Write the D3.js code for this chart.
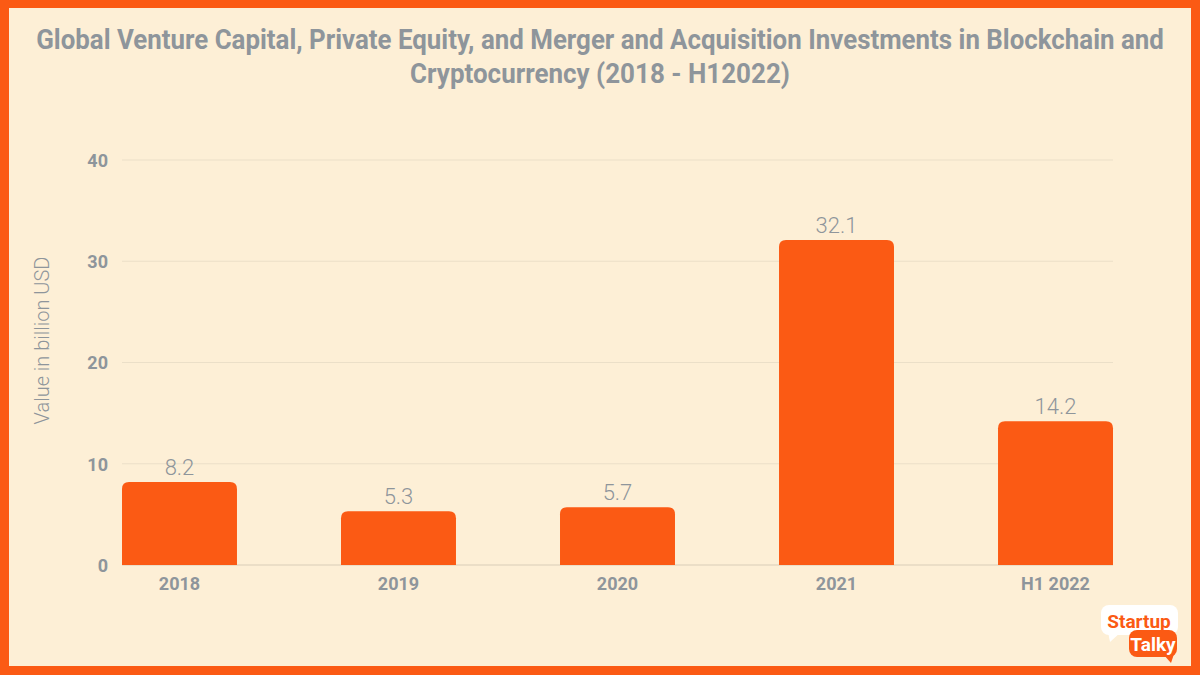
<!DOCTYPE html>
<html><head><meta charset="utf-8">
<script src="https://cdn.jsdelivr.net/npm/d3@7"></script>
<style>
html,body{margin:0;padding:0;background:#fff;}
svg{display:block;}
</style></head>
<body>
<svg id="c" width="1200" height="675"></svg>
<script>
const categories = ["2018","2019","2020","2021","H1 2022"];
const values = [8.2, 5.3, 5.7, 32.1, 14.2];
const yTicks = [0, 10, 20, 30, 40];
const titleLines = ["Global Venture Capital, Private Equity, and Merger and Acquisition Investments in Blockchain and","Cryptocurrency (2018 - H12022)"];
const titleWidths = [1128, 380];
const yLabel = "Value in billion USD";

const W = 1200, H = 675;
const orange = "#FB5A14", bg = "#FDEFD6", gray = "#8E959B";
const svg = d3.select("#c");
svg.append("rect").attr("width", W).attr("height", H).attr("fill", orange);
svg.append("rect").attr("x", 9).attr("y", 8).attr("width", W - 18).attr("height", H - 17).attr("fill", bg);

svg.append("g").selectAll("text").data(titleLines).join("text")
  .attr("x", 0).attr("y", 0)
  .attr("text-anchor", "middle")
  .attr("font-family", "Roboto, sans-serif").attr("font-weight", "bold").attr("font-size", 27)
  .attr("fill", gray).text(d => d)
  .each(function(d, i) {
    const w = this.getComputedTextLength();
    const k = titleWidths[i] / w;
    d3.select(this).attr("transform", `translate(${W / 2},${49 + i * 34}) scale(${k},1)`);
  });

const m = {left: 122, right: 1113, top: 160, bottom: 565};
const x = d3.scaleBand().domain(categories).range([m.left, m.right]).paddingInner(0.475).paddingOuter(0);
const y = d3.scaleLinear().domain([0, 40]).range([m.bottom, m.top]);

// grid
svg.append("g").selectAll("line").data(yTicks).join("line")
  .attr("x1", m.left).attr("x2", m.right)
  .attr("y1", d => y(d)).attr("y2", d => y(d))
  .attr("stroke", d => d === 0 ? "#D9CDB8" : "#EBDFC8").attr("stroke-width", 1);

// y axis labels
const yAxis = d3.axisLeft(y).tickValues(yTicks).tickSize(0).tickPadding(0);
const gy = svg.append("g").attr("transform", `translate(108,0)`).call(yAxis);
gy.select(".domain").remove();
gy.selectAll("text").attr("font-family", "Roboto, sans-serif").attr("font-weight", "bold")
  .attr("font-size", 18).attr("fill", gray).attr("dy", "0.35em");

// x axis labels
const xAxis = d3.axisBottom(x).tickSize(0).tickPadding(0);
const gx = svg.append("g").attr("transform", `translate(0,${m.bottom + 11})`).call(xAxis);
gx.select(".domain").remove();
gx.selectAll("text").attr("font-family", "Roboto, sans-serif").attr("font-weight", "bold")
  .attr("font-size", 18).attr("fill", gray).attr("dy", "0.75em");

// bars with rounded top corners
const r = 7;
function barPath(d, i) {
  const x0 = x(categories[i]), w = x.bandwidth(), y0 = y(d), yb = y(0);
  return `M${x0},${yb}V${y0 + r}Q${x0},${y0} ${x0 + r},${y0}H${x0 + w - r}Q${x0 + w},${y0} ${x0 + w},${y0 + r}V${yb}Z`;
}
svg.append("g").selectAll("path").data(values).join("path")
  .attr("d", barPath).attr("fill", orange);

// value labels
svg.append("g").selectAll("text").data(values).join("text")
  .attr("x", (d, i) => x(categories[i]) + x.bandwidth() / 2)
  .attr("y", d => y(d) - 7)
  .attr("text-anchor", "middle")
  .attr("font-family", "Roboto, sans-serif").attr("font-weight", 300).attr("font-size", 22)
  .attr("fill", gray).text(d => d.toFixed(1));

// y label
svg.append("text").attr("transform", `translate(49,${(m.top + m.bottom) / 2 - 22}) rotate(-90)`)
  .attr("text-anchor", "middle").attr("font-family", "Roboto, sans-serif").attr("font-weight", 300)
  .attr("font-size", 20).attr("fill", gray).text(yLabel);

// logo
const lg = svg.append("g");
lg.append("rect").attr("x", 1101).attr("y", 605).attr("width", 77).attr("height", 30).attr("rx", 8).attr("fill", "#FFFFFF");
lg.append("path").attr("d", "M1108,632 L1110,642 L1121,632 Z").attr("fill", "#FFFFFF");
lg.append("rect").attr("x", 1129).attr("y", 630).attr("width", 48).attr("height", 27).attr("rx", 8).attr("fill", orange);
lg.append("path").attr("d", "M1163,654 L1171,663 L1174,654 Z").attr("fill", orange);
lg.append("text").attr("x", 1139).attr("y", 628).attr("text-anchor", "middle")
  .attr("font-family", "Roboto, sans-serif").attr("font-weight", "bold").attr("font-size", 19)
  .attr("fill", orange).text("Startup");
lg.append("text").attr("x", 1153).attr("y", 651).attr("text-anchor", "middle")
  .attr("font-family", "Roboto, sans-serif").attr("font-weight", "bold").attr("font-size", 19)
  .attr("fill", "#FFFFFF").text("Talky");
</script>
</body></html>
